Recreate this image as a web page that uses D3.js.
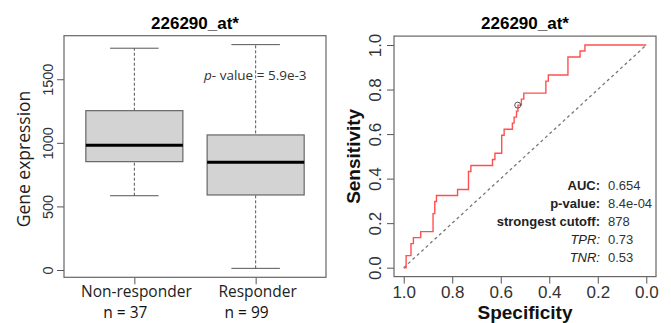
<!DOCTYPE html>
<html>
<head>
<meta charset="utf-8">
<script src="https://cdn.jsdelivr.net/npm/d3@7"></script>
<style>
  body { margin: 0; background: #fff; }
  svg { display: block; }
</style>
</head>
<body>
<div id="chart"></div>
<script>
// ---- data ----
var title = "226290_at*";

// boxplot (left)
var groups = ["Non-responder", "Responder"];
var groupN = [37, 99];
var whiskerLow = [584, 13];
var quart1 = [852, 590];
var medians = [981, 847];
var quart3 = [1253, 1062];
var whiskerHigh = [1744, 1772];
var boxTicks = [0, 500, 1000, 1500];
var boxPValue = "5.9e-3";

// ROC curve (right), corners of the step curve
var rocSpec = [1.000, 0.990, 0.970, 0.960, 0.930, 0.879, 0.872, 0.865, 0.778, 0.733, 0.723,
               0.634, 0.624, 0.596, 0.586, 0.552, 0.545, 0.535, 0.529, 0.515, 0.505, 0.414,
               0.404, 0.323, 0.273, 0.253, 0.000];
var rocSens = [0.000, 0.054, 0.108, 0.135, 0.162, 0.243, 0.297, 0.324, 0.351, 0.432, 0.459,
               0.486, 0.514, 0.595, 0.622, 0.649, 0.676, 0.703, 0.730, 0.757, 0.784, 0.838,
               0.865, 0.946, 0.973, 1.000, 1.000];
var rocTicks = [1.0, 0.8, 0.6, 0.4, 0.2, 0.0];
var cutoffPoint = [0.53, 0.73];
var statLabels = ["AUC:", "p-value:", "strongest cutoff:", "TPR:", "TNR:"];
var statValues = ["0.654", "8.4e-04", "878", "0.73", "0.53"];

var W = 671, H = 323;
var rFont = "'Liberation Sans', Arial, sans-serif";
var pptFont = "'Open Sans', 'Noto Sans', sans-serif";

var svg = d3.select("#chart").append("svg")
    .attr("width", W)
    .attr("height", H);

// ================= left: boxplot =================
var lo = d3.min(whiskerLow), hi = d3.max(whiskerHigh);
var pad = 0.04 * (hi - lo);
var yBox = d3.scaleLinear().domain([lo - pad, hi + pad]).range([277.3, 35.7]);
var xBox = d3.scaleLinear().domain([0.42, 2.58]).range([64, 326]);

var left = svg.append("g");

// y axis, R style rotated labels
var yAxisL = left.append("g")
    .attr("transform", "translate(" + xBox.range()[0] + ",0)")
    .call(d3.axisLeft(yBox).tickValues(boxTicks).tickSize(7).tickFormat(d3.format("d")));
yAxisL.select(".domain").remove();
yAxisL.selectAll("line").attr("stroke", "#555");
yAxisL.selectAll("text")
    .attr("transform", "rotate(-90)")
    .attr("x", 0).attr("y", -11).attr("dy", 0)
    .attr("text-anchor", "middle")
    .style("font-family", rFont).style("font-size", "14.5px").attr("fill", "#333");

// x axis ticks
var xAxisL = left.append("g")
    .attr("transform", "translate(0," + yBox.range()[0] + ")")
    .call(d3.axisBottom(xBox).tickValues([1, 2]).tickSize(7).tickFormat(""));
xAxisL.select(".domain").remove();
xAxisL.selectAll("line").attr("stroke", "#555");

var boxes = left.selectAll(".bx").data(groups).enter().append("g").attr("class", "bx");

boxes.append("line")  // whiskers
    .attr("x1", function(d, i) { return xBox(i + 1); })
    .attr("x2", function(d, i) { return xBox(i + 1); })
    .attr("y1", function(d, i) { return yBox(whiskerLow[i]); })
    .attr("y2", function(d, i) { return yBox(whiskerHigh[i]); })
    .attr("stroke", "#555").attr("stroke-dasharray", "3,2");

boxes.append("rect")
    .attr("x", function(d, i) { return xBox(i + 0.6); })
    .attr("width", function() { return xBox(1.4) - xBox(0.6); })
    .attr("y", function(d, i) { return yBox(quart3[i]); })
    .attr("height", function(d, i) { return yBox(quart1[i]) - yBox(quart3[i]); })
    .attr("fill", "#d3d3d3").attr("stroke", "#666").attr("stroke-width", 1.2);

boxes.append("line")  // median
    .attr("x1", function(d, i) { return xBox(i + 0.6); })
    .attr("x2", function(d, i) { return xBox(i + 1.4); })
    .attr("y1", function(d, i) { return yBox(medians[i]); })
    .attr("y2", function(d, i) { return yBox(medians[i]); })
    .attr("stroke", "#000").attr("stroke-width", 3);

[whiskerLow, whiskerHigh].forEach(function(arr) {
    boxes.append("line")
        .attr("x1", function(d, i) { return xBox(i + 0.8); })
        .attr("x2", function(d, i) { return xBox(i + 1.2); })
        .attr("y1", function(d, i) { return yBox(arr[i]); })
        .attr("y2", function(d, i) { return yBox(arr[i]); })
        .attr("stroke", "#555");
});

left.append("rect")
    .attr("x", xBox.range()[0]).attr("y", yBox.range()[1])
    .attr("width", xBox.range()[1] - xBox.range()[0])
    .attr("height", yBox.range()[0] - yBox.range()[1])
    .attr("fill", "none").attr("stroke", "#666").attr("stroke-width", 1.2);

// group labels
boxes.append("text")
    .attr("x", function(d, i) { return xBox(i + 1) + 2; })
    .attr("y", 297)
    .attr("text-anchor", "middle")
    .style("font-family", pptFont).style("font-size", "15.5px").attr("fill", "#222")
    .text(function(d) { return d; });
boxes.append("text")
    .attr("x", function(d, i) { return xBox(i + 1) - 9; })
    .attr("y", 318)
    .attr("text-anchor", "middle")
    .style("font-family", pptFont).style("font-size", "15.5px").attr("fill", "#111")
    .text(function(d, i) { return "n = " + groupN[i]; });

var pv = left.append("text")
    .attr("x", 204).attr("y", 80)
    .style("font-family", pptFont).style("font-size", "13.5px").attr("fill", "#333");
pv.append("tspan").style("font-style", "italic").text("p");
pv.append("tspan").text("- value = " + boxPValue);

left.append("text")
    .attr("transform", "translate(30,159) rotate(-90)")
    .attr("text-anchor", "middle")
    .style("font-family", pptFont).style("font-size", "17.5px").attr("fill", "#222")
    .text("Gene expression");

left.append("text")
    .attr("x", (xBox.range()[0] + xBox.range()[1]) / 2).attr("y", 29)
    .attr("text-anchor", "middle")
    .style("font-family", rFont).style("font-weight", "bold").style("font-size", "17px")
    .text(title);

// ================= right: ROC =================
var xRoc = d3.scaleLinear().domain([1.04, -0.04]).range([394, 656]);
var yRoc = d3.scaleLinear().domain([-0.04, 1.04]).range([276.6, 36.1]);

var right = svg.append("g");

var yAxisR = right.append("g")
    .attr("transform", "translate(" + xRoc.range()[0] + ",0)")
    .call(d3.axisLeft(yRoc).tickValues(rocTicks).tickSize(7).tickFormat(d3.format(".1f")));
yAxisR.select(".domain").remove();
yAxisR.selectAll("line").attr("stroke", "#555");
yAxisR.selectAll("text")
    .attr("transform", "rotate(-90)")
    .attr("x", 0).attr("y", -13).attr("dy", 0)
    .attr("text-anchor", "middle")
    .style("font-family", rFont).style("font-size", "17px").attr("fill", "#333");

var xAxisR = right.append("g")
    .attr("transform", "translate(0," + yRoc.range()[0] + ")")
    .call(d3.axisBottom(xRoc).tickValues(rocTicks).tickSize(7).tickFormat(d3.format(".1f")));
xAxisR.select(".domain").remove();
xAxisR.selectAll("line").attr("stroke", "#555");
xAxisR.selectAll("text")
    .attr("y", 21.5).attr("dy", 0)
    .style("font-family", rFont).style("font-size", "17px").attr("fill", "#333");

right.append("rect")
    .attr("x", xRoc.range()[0]).attr("y", yRoc.range()[1])
    .attr("width", xRoc.range()[1] - xRoc.range()[0])
    .attr("height", yRoc.range()[0] - yRoc.range()[1])
    .attr("fill", "none").attr("stroke", "#666").attr("stroke-width", 1.2);

// chance diagonal
right.append("line")
    .attr("x1", xRoc(1)).attr("y1", yRoc(0))
    .attr("x2", xRoc(0)).attr("y2", yRoc(1))
    .attr("stroke", "#777").attr("stroke-width", 1.3).attr("stroke-dasharray", "3,3");

var rocLine = d3.line()
    .x(function(d) { return xRoc(d[0]); })
    .y(function(d) { return yRoc(d[1]); })
    .curve(d3.curveStepAfter);
right.append("path")
    .datum(d3.zip(rocSpec, rocSens))
    .attr("d", rocLine)
    .attr("fill", "none").attr("stroke", "#ff5050").attr("stroke-width", 1.4);

right.append("circle")
    .attr("cx", xRoc(cutoffPoint[0])).attr("cy", yRoc(cutoffPoint[1]))
    .attr("r", 3)
    .attr("fill", "none").attr("stroke", "#555").attr("stroke-width", 1);

// stats block
var stats = right.selectAll(".st").data(statLabels).enter().append("g").attr("class", "st");
stats.append("text")
    .attr("x", 600)
    .attr("y", function(d, i) { return 190 + i * 18; })
    .attr("text-anchor", "end")
    .style("font-family", rFont).style("font-size", "13px").attr("fill", "#222")
    .style("font-weight", function(d, i) { return i < 3 ? "bold" : "normal"; })
    .style("font-style", function(d, i) { return i < 3 ? "normal" : "italic"; })
    .text(function(d) { return d; });
stats.append("text")
    .attr("x", 608)
    .attr("y", function(d, i) { return 190 + i * 18; })
    .style("font-family", rFont).style("font-size", "13px").attr("fill", "#333")
    .text(function(d, i) { return statValues[i]; });

right.append("text")
    .attr("x", (xRoc.range()[0] + xRoc.range()[1]) / 2).attr("y", 29)
    .attr("text-anchor", "middle")
    .style("font-family", rFont).style("font-weight", "bold").style("font-size", "17px")
    .text(title);

right.append("text")
    .attr("x", (xRoc.range()[0] + xRoc.range()[1]) / 2).attr("y", 319)
    .attr("text-anchor", "middle")
    .style("font-family", rFont).style("font-weight", "bold").style("font-size", "19px")
    .attr("fill", "#111")
    .text("Specificity");

right.append("text")
    .attr("transform", "translate(360," + (yRoc.range()[0] + yRoc.range()[1]) / 2 + ") rotate(-90)")
    .attr("text-anchor", "middle")
    .style("font-family", rFont).style("font-weight", "bold").style("font-size", "19px")
    .attr("fill", "#111")
    .text("Sensitivity");
</script>
</body>
</html>
